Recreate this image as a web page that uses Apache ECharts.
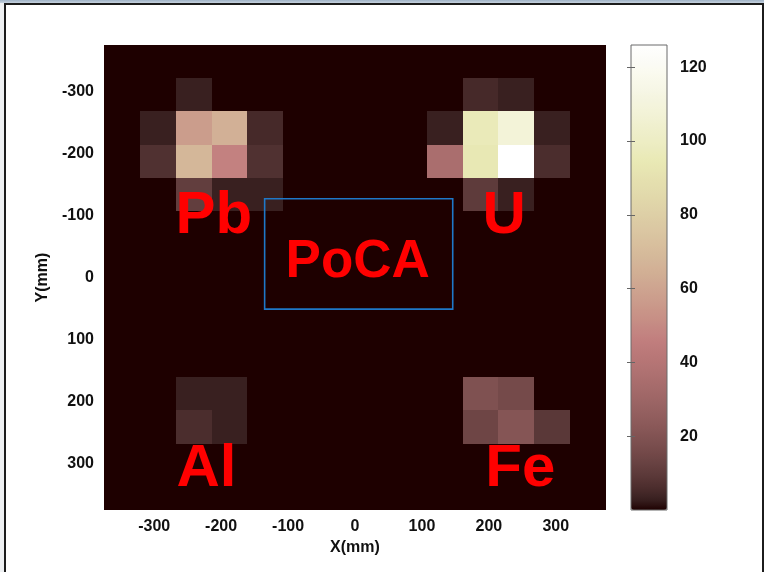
<!DOCTYPE html>
<html>
<head>
<meta charset="utf-8">
<title>PoCA reconstruction</title>
<script src="https://cdn.jsdelivr.net/npm/echarts@6/dist/echarts.min.js"></script>
<style>
  html, body { margin: 0; padding: 0; background: #eef0f2; }
  #titlebar { position: absolute; left: 0; top: 0; width: 764px; height: 3px; background: linear-gradient(#9fb2c6, #c6d2de); z-index: 2; }
  #frame { position: absolute; left: 4px; top: 3px; width: 756px; height: 600px; background: #fff;
           border-left: 2px solid #1c1c1c; border-top: 2px solid #1c1c1c; border-right: 2px solid #1c1c1c; z-index: 0; }
  #chart { position: absolute; left: 0; top: 0; width: 764px; height: 572px; z-index: 1; }
</style>
</head>
<body>
<div id="titlebar"></div>
<div id="frame"></div>
<div id="chart"></div>
<script>
// Reconstruction volume: 14 x 14 bins over +/-375 mm in X and Y
const xLimits = [-375, 375];
const yLimits = [-375, 375];
const binCount = 14;

// Tick values
const xTicks = [-300, -200, -100, 0, 100, 200, 300];
const yTicks = [-300, -200, -100, 0, 100, 200, 300];
const colorTicks = [20, 40, 60, 80, 100, 120];
const colorRange = [0, 126];

// PoCA point counts per bin; rows run from Y = -375 (top) to Y = +375 (bottom)
const row00 = [0, 0, 0, 0, 0, 0, 0, 0, 0, 0, 0, 0, 0, 0];
const row01 = [0, 0, 3, 0, 0, 0, 0, 0, 0, 0, 5, 3, 0, 0];
const row02 = [0, 3, 57, 65, 5, 0, 0, 0, 0, 3, 96, 108, 3, 0];
const row03 = [0, 7, 68, 47, 7, 0, 0, 0, 0, 35, 94, 126, 6, 0];
const row04 = [0, 0, 11, 3, 3, 0, 0, 0, 0, 0, 10, 3, 0, 0];
const row05 = [0, 0, 0, 0, 0, 0, 0, 0, 0, 0, 0, 0, 0, 0];
const row06 = [0, 0, 0, 0, 0, 0, 0, 0, 0, 0, 0, 0, 0, 0];
const row07 = [0, 0, 0, 0, 0, 0, 0, 0, 0, 0, 0, 0, 0, 0];
const row08 = [0, 0, 0, 0, 0, 0, 0, 0, 0, 0, 0, 0, 0, 0];
const row09 = [0, 0, 0, 0, 0, 0, 0, 0, 0, 0, 0, 0, 0, 0];
const row10 = [0, 0, 3, 3, 0, 0, 0, 0, 0, 0, 19, 16, 0, 0];
const row11 = [0, 0, 6, 3, 0, 0, 0, 0, 0, 0, 14, 21, 9, 0];
const row12 = [0, 0, 0, 0, 0, 0, 0, 0, 0, 0, 0, 0, 0, 0];
const row13 = [0, 0, 0, 0, 0, 0, 0, 0, 0, 0, 0, 0, 0, 0];
const counts = [row00, row01, row02, row03, row04, row05, row06,
                row07, row08, row09, row10, row11, row12, row13];

// Material annotations (data coordinates, mm)
const materialNames = ['Pb', 'U', 'Al', 'Fe'];
const materialX = [-211, 223, -222, 247];
const materialY = [-98, -98, 309, 310];

// Region of interest box (mm)
const regionName = 'PoCA';
const regionX = [-135, 146];
const regionY = [-127, 51];
const regionLabelPos = [4, -24];

// MATLAB-style "pink" colormap, 64 levels: sqrt((2*gray + hot) / 3)
function pinkColormap(m) {
  const n = Math.floor(3 / 8 * m);
  const out = [];
  for (let k = 0; k < m; k++) {
    const gray = k / (m - 1);
    const hr = k < n ? (k + 1) / n : 1;
    const hg = k < n ? 0 : (k < 2 * n ? (k - n + 1) / n : 1);
    const hb = k < 2 * n ? 0 : (k - 2 * n + 1) / (m - 2 * n);
    const c = [hr, hg, hb].map(h => Math.round(255 * Math.sqrt((2 * gray + h) / 3)));
    out.push('rgb(' + c.join(',') + ')');
  }
  return out;
}

const xStep = (xLimits[1] - xLimits[0]) / binCount;
const yStep = (yLimits[1] - yLimits[0]) / binCount;
const cells = [];
counts.forEach((row, j) => {
  row.forEach((v, i) => {
    const x0 = xLimits[0] + i * xStep, x1 = x0 + xStep;
    const y0 = yLimits[0] + j * yStep, y1 = y0 + yStep;
    cells.push([(x0 + x1) / 2, (y0 + y1) / 2, v, x0, x1, y0, y1]);
  });
});

const tickFont = { color: '#111', fontSize: 16, fontWeight: 'bold', fontFamily: '"Liberation Sans", Arial, sans-serif' };

const chart = echarts.init(document.getElementById('chart'), null, { renderer: 'canvas' });

chart.setOption({
  backgroundColor: 'transparent',
  animation: false,
  grid: [
    { left: 104, top: 45, width: 502, height: 465, show: false },
    { left: 631, top: 45, width: 36, height: 465, show: true, z: 6,
      borderColor: '#6a6a6a', borderWidth: 1, backgroundColor: 'transparent' }
  ],
  xAxis: [
    {
      type: 'value', gridIndex: 0, min: xLimits[0], max: xLimits[1],
      name: 'X(mm)', nameLocation: 'middle', nameGap: 29,
      nameTextStyle: tickFont,
      axisLine: { show: false },
      axisTick: { show: true, inside: true, length: 5, customValues: xTicks, lineStyle: { color: '#000' } },
      axisLabel: Object.assign({ margin: 9, customValues: xTicks }, tickFont),
      splitLine: { show: false }
    },
    { type: 'value', gridIndex: 1, min: 0, max: 1, show: false }
  ],
  yAxis: [
    {
      type: 'value', gridIndex: 0, min: yLimits[0], max: yLimits[1], inverse: true,
      name: 'Y(mm)', nameLocation: 'middle', nameGap: 50, nameRotate: 90,
      nameTextStyle: tickFont,
      axisLine: { show: false },
      axisTick: { show: true, inside: true, length: 5, customValues: yTicks, lineStyle: { color: '#000' } },
      axisLabel: Object.assign({ margin: 10, customValues: yTicks }, tickFont),
      splitLine: { show: false }
    },
    {
      type: 'value', gridIndex: 1, min: colorRange[0], max: colorRange[1], position: 'right', z: 8,
      axisLine: { show: false },
      axisTick: { show: true, inside: true, length: 4, customValues: colorTicks, lineStyle: { color: '#666' } },
      axisLabel: Object.assign({ margin: 13, customValues: colorTicks }, tickFont),
      splitLine: { show: false }
    },
    {
      type: 'value', gridIndex: 1, min: colorRange[0], max: colorRange[1], position: 'left', z: 8,
      axisLine: { show: false },
      axisTick: { show: true, inside: true, length: 4, customValues: colorTicks, lineStyle: { color: '#666' } },
      axisLabel: { show: false },
      splitLine: { show: false }
    }
  ],
  visualMap: {
    type: 'continuous',
    seriesIndex: 0,
    dimension: 2,
    min: colorRange[0],
    max: colorRange[1],
    calculable: false,
    realtime: false,
    orient: 'vertical',
    left: 631,
    top: 45,
    z: 2,
    itemWidth: 36,
    itemHeight: 465,
    padding: 0,
    inRange: { color: pinkColormap(64) },
    text: null,
    showLabel: false
  },
  series: [
    {
      type: 'custom',
      name: 'counts',
      xAxisIndex: 0,
      yAxisIndex: 0,
      clip: true,
      encode: { x: 0, y: 1 },
      data: cells,
      renderItem: function (params, api) {
        const p0 = api.coord([api.value(3), api.value(5)]);
        const p1 = api.coord([api.value(4), api.value(6)]);
        const left = Math.round(Math.min(p0[0], p1[0]));
        const right = Math.round(Math.max(p0[0], p1[0]));
        const top = Math.round(Math.min(p0[1], p1[1]));
        const bottom = Math.round(Math.max(p0[1], p1[1]));
        return {
          type: 'rect',
          shape: { x: left, y: top, width: right - left, height: bottom - top },
          style: { fill: api.visual('color'), stroke: null }
        };
      }
    },
    {
      type: 'custom',
      name: 'region',
      xAxisIndex: 0,
      yAxisIndex: 0,
      silent: true,
      encode: { x: [0, 2], y: [1, 3] },
      data: [[regionX[0], regionY[0], regionX[1], regionY[1]]],
      renderItem: function (params, api) {
        const a = api.coord([api.value(0), api.value(1)]);
        const b = api.coord([api.value(2), api.value(3)]);
        return {
          type: 'rect',
          shape: { x: a[0], y: a[1], width: b[0] - a[0], height: b[1] - a[1] },
          style: { fill: 'none', stroke: '#1f78c8', lineWidth: 1.6 }
        };
      },
      z: 3
    },
    {
      type: 'custom',
      name: 'labels',
      xAxisIndex: 0,
      yAxisIndex: 0,
      silent: true,
      encode: { x: 0, y: 1 },
      data: materialNames.map((n, k) => [materialX[k], materialY[k], n, 60])
        .concat([[regionLabelPos[0], regionLabelPos[1], regionName, 53]]),
      renderItem: function (params, api) {
        const p = api.coord([api.value(0), api.value(1)]);
        return {
          type: 'text',
          x: p[0],
          y: p[1],
          style: {
            text: api.value(2),
            fill: '#ff0000',
            font: 'bold ' + api.value(3) + 'px "Liberation Sans", Arial, sans-serif',
            align: 'center',
            verticalAlign: 'middle'
          }
        };
      },
      z: 4
    }
  ]
});
</script>
</body>
</html>
